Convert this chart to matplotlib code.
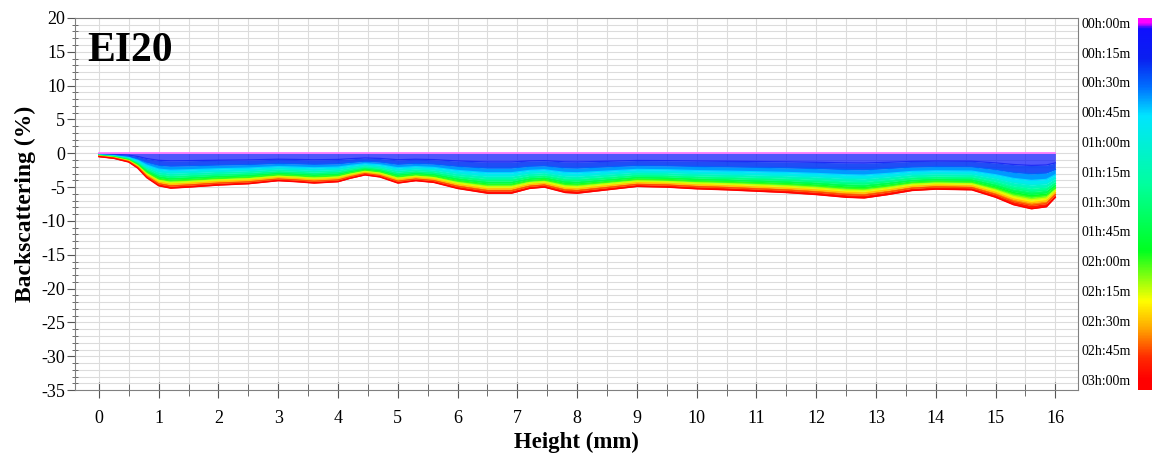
import numpy as np
import matplotlib
matplotlib.use('Agg')
import matplotlib.pyplot as plt
from matplotlib.colors import LinearSegmentedColormap
from matplotlib.ticker import MultipleLocator

plt.rcParams['font.family'] = ['Liberation Serif', 'DejaVu Serif']
plt.rcParams['axes.unicode_minus'] = False

# height positions (mm) and backscattering of the last scan (3h00)
heights = [0, 0.25, 0.5, 0.65, 0.8, 1.0, 1.2, 1.5, 2.0, 2.5, 3.0, 3.3, 3.6,
           4.0, 4.2, 4.45, 4.7, 5.0, 5.3, 5.6, 6.0, 6.5, 6.9, 7.2, 7.45, 7.8,
           8.0, 8.5, 9.0, 9.5, 10.0, 10.5, 11.0, 11.5, 12.0, 12.5, 12.8, 13.2,
           13.6, 14.0, 14.6, 15.0, 15.3, 15.6, 15.85, 16.0]
bs_final = [-0.5, -0.75, -1.3, -2.2, -3.6, -4.8, -5.15, -5.0, -4.7, -4.5,
            -4.05, -4.2, -4.4, -4.2, -3.7, -3.2, -3.5, -4.4, -4.05, -4.3,
            -5.2, -5.9, -5.9, -5.2, -5.0, -5.8, -5.9, -5.4, -4.9, -5.0, -5.25,
            -5.4, -5.6, -5.8, -6.1, -6.5, -6.6, -6.1, -5.5, -5.3, -5.4, -6.5,
            -7.6, -8.2, -7.9, -6.5]

# scan times (min) and how far each scan has gone towards the final profile
scan_min = [0, 15, 30, 45, 60, 75, 90, 105, 120, 135, 150, 165, 180]
depth_frac = [0, 0.22, 0.37, 0.49, 0.57, 0.63, 0.69, 0.74, 0.79, 0.84, 0.89,
              0.94, 1.0]
time_labels = ['00h:00m', '00h:15m', '00h:30m', '00h:45m', '01h:00m',
               '01h:15m', '01h:30m', '01h:45m', '02h:00m', '02h:15m',
               '02h:30m', '02h:45m', '03h:00m']

cmap = LinearSegmentedColormap.from_list('scan', [
    (0.0, '#ff00ff'), (0.015, '#1010ff'), (0.1, '#0a20f0'),
    (0.18, '#0070ff'), (0.26, '#00e5ff'), (0.45, '#00ffa0'),
    (0.64, '#00ff20'), (0.78, '#ffff00'), (0.86, '#ffa500'),
    (0.94, '#ff2a00'), (1.0, '#ff0000')])

fig = plt.figure(figsize=(11.53, 4.59), dpi=100)
ax = fig.add_axes([0.065, 0.150, 0.870, 0.811])

x = np.array(heights)
final = np.array(bs_final)
for i in range(len(scan_min) - 1):
    upper = depth_frac[i] * final
    lower = depth_frac[i + 1] * final
    mid = 0.5 * (scan_min[i] + scan_min[i + 1]) / 180
    alpha = 0.72 if i == 0 else (0.9 if i == 1 else 1)
    ax.fill_between(x, upper, lower, color=cmap(mid), lw=0, alpha=alpha)
    ax.plot(x, lower, color=cmap(scan_min[i + 1] / 180), lw=1, alpha=alpha)
ax.plot(x, depth_frac[0] * final, color='#ff70ff', lw=1.2)

ax.set_xlim(-0.4, 16.38)
ax.set_ylim(-35, 20)
ax.xaxis.set_major_locator(MultipleLocator(1))
ax.xaxis.set_minor_locator(MultipleLocator(0.5))
ax.yaxis.set_major_locator(MultipleLocator(5))
ax.yaxis.set_minor_locator(MultipleLocator(1))
ax.set_axisbelow(True)
ax.grid(which='both', color='#dcdcdc', lw=0.8)
for s in ax.spines.values():
    s.set_color('#808080')
ax.tick_params(axis='x', which='major', direction='inout', length=12,
               color='#555555', labelsize=13, pad=8)
ax.tick_params(axis='x', which='minor', direction='inout', length=8,
               color='#555555')
ax.tick_params(axis='y', which='major', direction='out', length=6,
               color='#555555', labelsize=13, pad=1)
ax.tick_params(axis='y', which='minor', direction='inout', length=4,
               color='#555555')
ax.set_xlabel('Height (mm)', fontsize=16.5, fontweight='bold', labelpad=4)
ax.set_ylabel('Backscattering (%)', fontsize=17, fontweight='bold',
              labelpad=4)
ax.text(0.012, 0.91, 'EI20', transform=ax.transAxes, fontsize=30,
        fontweight='bold', va='center', ha='left')

# time colour bar
cax = fig.add_axes([0.987, 0.150, 0.012, 0.811])
tt = np.linspace(-2.5, 185, 400)
cax.imshow(np.clip(tt, 0, 180)[:, None] / 180, cmap=cmap, vmin=0, vmax=1,
           aspect='auto', extent=(0, 1, 185, -2.5), interpolation='bilinear')
cax.set_ylim(185, -2.5)
cax.set_xlim(0, 1)
cax.set_xticks([])
cax.set_yticks(scan_min)
cax.set_yticklabels(time_labels)
cax.tick_params(axis='y', length=0, labelsize=10, pad=5)
for s in cax.spines.values():
    s.set_visible(False)

fig.savefig('out.png', dpi=100)
